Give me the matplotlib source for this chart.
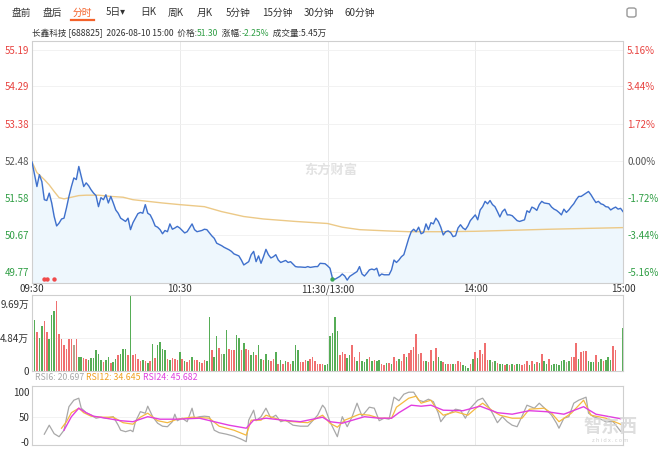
import matplotlib
matplotlib.use('Agg')
import matplotlib.pyplot as plt
from matplotlib.patches import FancyBboxPatch
from matplotlib.lines import Line2D

plt.rcParams['font.family'] = ['Noto Sans CJK SC', 'DejaVu Sans']

# ---- datos ----
prev_close = 52.48
price_ticks = [55.19, 54.29, 53.38, 52.48, 51.58, 50.67, 49.77]
pct_labels = ['5.16%', '3.44%', '1.72%', '0.00%', '-1.72%', '-3.44%', '-5.16%']
time_ticks = [0, 60, 120, 180, 240]
time_labels = ['09:30', '10:30', '11:30/13:00', '14:00', '15:00']
tabs = ['盘前', '盘后', '分时', '5日▾', '日K', '周K', '月K', '5分钟', '15分钟', '30分钟', '60分钟']

price_min = [0, 1, 2, 3, 4, 5, 6, 7, 8, 9, 10, 11, 12, 13, 14, 15, 16, 17, 18, 19,
             20, 21, 22, 23, 24, 25, 26, 27, 28, 29, 30, 31, 32, 33, 34, 35, 36, 37, 38, 39,
             40, 41, 42, 43, 44, 45, 46, 47, 48, 49, 50, 51, 52, 53, 54, 55, 56, 57, 58, 59,
             60, 62, 63, 65, 66, 67, 69, 70, 71, 73, 74, 75, 77, 78, 80, 81, 82, 84, 85, 86,
             88, 89, 90, 91, 92, 93, 94, 95, 96, 97, 98, 99, 100, 101, 103, 104, 105, 107, 108, 109,
             111, 112, 113, 115, 116, 117, 119, 120,
             121, 122, 123, 125, 126, 127, 128, 129, 130, 132, 133, 134, 135, 136, 137, 138, 139, 140,
             141, 142, 143, 144, 145, 146, 147, 148, 149, 150, 151, 152, 153, 154, 155, 156, 157, 158,
             159, 160, 161, 162, 163, 164, 165, 166, 167, 168, 169, 170, 171, 172, 173, 174, 175, 176,
             177, 178, 180, 181, 182, 183, 184, 185, 186, 187, 188, 189, 190, 191, 192, 193, 194, 195,
             197, 198, 199, 200, 201, 202, 203, 204, 205, 206, 207, 208, 210, 211, 212, 213, 214, 215,
             216, 217, 218, 219, 220, 221, 222, 223, 224, 225, 226, 227, 228, 229, 230, 231, 232, 233,
             234, 235, 236, 237, 238, 239, 240]
price = [52.45, 52.15, 51.85, 52.14, 51.97, 51.53, 51.51, 51.69, 51.45, 51.12, 50.89, 50.96, 51.06, 51.08,
         51.33, 51.61, 51.85, 52.06, 52.02, 52.34, 52.10, 51.85, 51.94, 51.87, 51.77, 51.69, 51.63, 51.36,
         51.58, 51.53, 51.65, 51.45, 51.61, 51.45, 51.28, 51.20, 51.08, 51.04, 51.00, 51.08, 50.80, 50.97,
         51.08, 51.19, 51.22, 51.20, 51.41, 51.20, 51.16, 51.04, 50.89, 50.86, 50.80, 50.70, 50.78, 50.75,
         50.94, 50.81, 50.84, 50.88,
         50.84, 50.72, 50.75, 50.94, 50.80, 50.75, 50.78, 50.81, 50.80, 50.65, 50.59, 50.47, 50.41, 50.37,
         50.31, 50.27, 50.21, 50.16, 50.06, 49.94, 50.02, 50.19, 50.27, 50.02, 50.16, 49.98, 50.14, 50.32,
         50.19, 50.11, 50.14, 50.19, 50.06, 50.00, 50.05, 50.00, 50.02, 49.90, 49.89, 49.89, 49.88, 49.90,
         49.88, 49.90, 49.90, 49.98, 49.97, 49.92,
         49.86, 49.62, 49.59, 49.66, 49.72, 49.67, 49.57, 49.66, 49.70, 49.78, 49.90, 49.72, 49.67, 49.74,
         49.82, 49.84, 49.82, 49.86, 49.67, 49.72, 49.70, 49.70, 49.70, 49.82, 50.06, 50.00, 50.06, 50.14,
         50.19, 50.39, 50.59, 50.75, 50.81, 50.75, 50.86, 50.70, 50.73, 50.94, 50.80, 50.97, 50.94, 51.08,
         51.00, 50.86, 50.67, 50.75, 50.77, 50.73, 50.63, 50.65, 50.84, 50.92, 50.84, 50.80, 50.89, 51.02,
         51.16,
         51.04, 51.28, 51.36, 51.49, 51.43, 51.51, 51.41, 51.36, 51.24, 51.11, 51.24, 51.30, 51.16, 51.16,
         51.14, 51.02, 51.00, 51.02, 51.04, 51.26, 51.22, 51.35, 51.32, 51.27, 51.41, 51.49, 51.45, 51.43,
         51.35, 51.30, 51.27, 51.22, 51.16, 51.30, 51.22, 51.28, 51.36, 51.43, 51.53, 51.61, 51.61, 51.65,
         51.69, 51.73, 51.65, 51.55, 51.46, 51.49, 51.43, 51.41, 51.36, 51.35, 51.28, 51.32, 51.35, 51.30,
         51.32, 51.24]

avg_min = [0, 2, 5, 7, 9, 11, 13, 16, 19, 22, 27, 32, 37, 41, 47, 53, 60, 70, 77, 86, 94, 107, 120,
           126, 133, 144, 153, 167, 180, 210, 240]
avg_price = [52.45, 52.19, 52.02, 51.89, 51.73, 51.58, 51.55, 51.59, 51.63, 51.64, 51.64, 51.61, 51.59,
             51.53, 51.49, 51.45, 51.41, 51.36, 51.24, 51.12, 51.06, 51.00, 50.95, 50.86, 50.80, 50.77,
             50.75, 50.75, 50.76, 50.81, 50.85]

buy_marks = [5, 6, 9]
sell_marks = [122]

# volumen por minuto (万), 0..240
volume = [8.95, 7.4, 5.6, 4.8, 6.5, 7.3, 5.6, 4.7, 8.1, 8.7,
          10.2, 5.45, 4.7, 3.75, 3.2, 4.7, 4.7, 3.75, 4.6, 2.0,
          2.0, 1.9, 1.8, 1.55, 1.95, 1.95, 3.1, 2.5, 1.65, 1.3,
          1.65, 2.1, 1.2, 1.3, 1.8, 2.3, 2.5, 3.25, 3.25, 2.3,
          10.9, 2.3, 2.4, 1.7, 1.4, 1.55, 1.45, 1.2, 1.45,
          3.9, 1.95, 3.75, 4.2, 3.25, 3.1, 1.8, 1.55, 1.95, 1.8,
          1.65, 2.8, 1.8, 1.45, 1.3, 1.65, 2.0, 1.55, 1.55, 1.3,
          1.2, 1.55, 1.45, 7.8, 3.1, 2.0, 5.05, 3.4, 2.4, 2.4,
          5.9, 3.25, 3.1, 3.1, 5.3, 4.85, 3.1, 4.0, 3.25, 3.1,
          2.3, 2.8, 2.3, 3.75, 1.8, 1.65, 2.5, 1.65, 1.45, 1.8,
          2.8, 0.95, 1.65, 1.05, 1.45, 1.3, 0.95, 1.45, 3.75, 3.0,
          1.3, 1.3, 1.55, 1.45, 1.8, 2.0, 1.4, 0.95, 1.05, 1.05,
          0.8, 0.95, 5.05,
          5.55, 7.8, 5.85, 2.3, 2.8, 2.5, 1.95, 2.3, 3.75, 2.0,
          1.45, 2.7, 1.4, 1.3, 1.8, 2.1, 1.45, 1.55, 1.45, 1.55,
          0.95, 0.8, 1.15, 1.15, 0.95, 2.1, 1.45, 1.8, 1.45, 2.5,
          2.0, 2.6, 3.1, 3.5, 5.45, 2.4, 2.6, 1.45, 1.45, 1.3,
          3.1, 1.4, 3.4, 2.1, 1.45, 1.3, 1.05, 0.95, 0.95,
          0.95, 1.05, 1.45, 1.3, 0.8, 0.7, 0.5, 0.95, 1.8, 2.8,
          1.95, 3.0, 2.5, 4.1, 1.65, 1.65, 1.3, 1.45, 1.15, 0.95,
          0.95, 0.8, 0.95, 0.8, 0.95, 0.8, 0.95, 1.05, 0.8,
          0.95, 1.45, 0.8, 1.45, 1.05, 1.3, 1.15, 2.4, 1.45, 0.95,
          1.8, 0.8, 0.95, 1.05, 0.8, 1.45, 1.55, 1.3, 1.45, 2.0,
          2.0, 4.1, 1.8, 2.8, 2.9, 2.9, 1.45, 1.3, 1.3, 2.3,
          1.3, 1.8, 1.45, 1.65, 2.1, 1.65, 3.6, 3.1,
          0, 0, 6.2]
# r = sube, g = baja, n = igual
vol_dir = ("ggrggrrggg" "rrrrrrrnrg" "grrggggggrg" "grggrgggrg" "rrrrgrgr"
           "grggggrgrr" "rgrgrrgrrg" "rrggrggrng" "grrrggrgrr" "ggrggrggrr"
           "grgrgrrggg" "rrrgrrrrrr" "ggg"
           "gggrrrggrr" "grgggrgrgg" "rrgrgrrgrr" "grrrrnrrgr" "rgrggrgrr"
           "grrrgggrgr" "grrrrgngrg" "grgrgrggr" "rrgrgrgrgg" "rggggggngr"
           "rrgrrrgggr" "ggrgggrr" "ggg")

rsi6_min = [5, 7, 9, 11, 13, 14, 15, 17, 19, 20, 22, 24, 26, 28, 30, 33, 35, 36, 38, 40, 41, 42, 44, 46,
            47, 49, 51, 53, 55, 57, 58, 59, 61, 63, 65, 66, 68, 70, 72, 74, 76, 79, 82, 85, 87, 88, 90, 91,
            93, 95, 97, 99, 101, 103, 106, 109, 112, 114, 116, 118, 119, 121, 124, 126, 128, 130, 132, 134,
            137, 139, 141, 143, 145, 147, 149, 151, 153, 155, 157, 159, 161, 163, 165, 166, 168, 170, 172,
            174, 176, 178, 181, 183, 185, 187, 189, 191, 193, 195, 197, 199, 201, 204, 206, 209, 211, 213,
            214, 216, 218, 220, 222, 225, 226, 228, 231, 233, 236, 239]
rsi6 = [15, 33, 16, 10, 23, 47, 70, 83, 87, 67, 58, 53, 47, 49, 47, 50, 33, 23, 20, 23, 20, 40, 60, 57,
        71, 50, 37, 31, 30, 40, 55, 42, 47, 40, 67, 47, 50, 51, 50, 23, 18, 15, 11, 5, 0, 43, 63, 42,
        50, 67, 47, 53, 40, 43, 33, 31, 31, 42, 53, 73, 67, 40, 10, 50, 30, 50, 77, 51,
        69, 67, 42, 47, 45, 89, 82, 95, 99, 99, 83, 80, 85, 80, 57, 40, 53, 58, 65,
        63, 47, 67, 83, 87, 73, 57, 38, 50, 40, 33, 30, 51, 73, 67, 77, 63, 53, 37,
        27, 47, 50, 77, 83, 89, 57, 50, 45, 40, 40, 21]
rsi12_min = [12, 14, 16, 19, 21, 24, 28, 33, 37, 41, 44, 47, 51, 55, 59, 65, 72, 76, 82, 87, 89, 93, 95,
             101, 106, 112, 118, 121, 124, 127, 133, 137, 141, 146, 148, 153, 156, 158, 162, 164, 167,
             172, 177, 181, 183, 187, 190, 195, 199, 202, 208, 211, 214, 219, 224, 227, 233, 239]
rsi12 = [27, 40, 58, 67, 58, 51, 49, 49, 38, 35, 49, 57, 42, 38, 45, 49, 47, 31, 23, 13, 43, 43, 53,
         43, 40, 38, 53, 37, 29, 43, 55, 53, 47, 47, 69, 87, 91, 77, 83, 67, 53,
         60, 53, 70, 77, 62, 53, 47, 47, 65, 67, 57, 40, 57, 83, 53, 47, 35]
rsi24_min = [13, 16, 19, 22, 25, 30, 36, 41, 47, 52, 59, 68, 74, 80, 87, 90, 95, 102, 109, 118, 121,
             126, 135, 141, 146, 149, 154, 158, 162, 167, 175, 182, 189, 195, 202, 209, 216, 224, 229, 239]
rsi24 = [23, 50, 67, 58, 51, 47, 42, 40, 50, 45, 45, 47, 40, 33, 27, 43, 47, 43, 40, 49, 40,
         37, 50, 47, 47, 58, 73, 71, 73, 63, 62, 71, 58, 55, 62, 60, 55, 70, 55, 46]

# ---- colores ----
RED = '#e8423f'
GREEN = '#2f9e44'
GRID = '#f0f0f0'
VGRID = '#e6e6e6'
SPINE = '#cfcfcf'
bar_colors = {'r': '#f07070', 'g': '#56ad56', 'n': '#b3a58f'}

W, H = 660, 451
fig = plt.figure(figsize=(W / 100, H / 100), dpi=100)


def box(left, top, right, bottom):
    return [left / W, 1 - bottom / H, (right - left) / W, (bottom - top) / H]


ax = fig.add_axes(box(32, 41.5, 623, 283))
axv = fig.add_axes(box(32, 295, 623, 371))
axr = fig.add_axes(box(32, 386, 623, 445))

for a in (ax, axv, axr):
    a.set_xlim(0, 240)
    for s in a.spines.values():
        s.set_color(SPINE)
        s.set_linewidth(0.8)
    a.tick_params(length=0, labelsize=7, colors='#333333', pad=2)
    for m in (60, 120, 180):
        a.axvline(m, color=VGRID, lw=0.6, zorder=0)

# precio
ylo, yhi = 49.50, 55.385
ax.set_ylim(ylo, yhi)
for t in price_ticks:
    ax.axhline(t, color=GRID, lw=0.6, zorder=0)
ax.fill_between(price_min, price, ylo, color='#eef7fd', zorder=1)
ax.plot(price_min, price, color='#3f70cc', lw=1.0, zorder=3)
ax.plot(avg_min, avg_price, color='#ecc987', lw=1.0, zorder=2)
ax.scatter(buy_marks, [49.60] * len(buy_marks), s=10, color='#f04a4a', zorder=4, lw=0)
ax.scatter(sell_marks, [49.60] * len(sell_marks), s=10, color='#3aa655', zorder=4, lw=0)

ax.set_yticks(price_ticks)
ax.set_yticklabels([f'{t:.2f}' for t in price_ticks])
ax.set_xticks(time_ticks)
ax.set_xticklabels(time_labels)
ax.tick_params(axis='x', pad=1)
ax2 = ax.twinx()
ax2.set_ylim(ylo, yhi)
ax2.set_yticks(price_ticks)
ax2.set_yticklabels(pct_labels)
ax2.tick_params(length=0, labelsize=7, pad=3)
for s in ax2.spines.values():
    s.set_visible(False)


def tick_color(v):
    if v > prev_close + 0.001:
        return RED
    if v < prev_close - 0.001:
        return GREEN
    return '#555555'


for lab, v in zip(ax.get_yticklabels(), price_ticks):
    lab.set_color(tick_color(v))
for lab, v in zip(ax2.get_yticklabels(), price_ticks):
    lab.set_color(tick_color(v))

ax.text(0.505, 0.47, '东方财富', transform=ax.transAxes, fontsize=9.5, fontweight='bold',
        color='#e2e2e2', ha='center', va='center', zorder=0)

# volumen
vol_x = list(range(len(volume)))
axv.bar(vol_x, volume, width=0.62, color=[bar_colors[c] for c in vol_dir], zorder=2)
axv.set_ylim(0, 11.05)
axv.set_yticks([0, 4.84, 9.69])
axv.set_yticklabels(['0', '4.84万', '9.69万'])
axv.axhline(4.84, color=GRID, lw=0.6, zorder=0)
axv.set_xticks([])

# RSI
axr.plot(rsi6_min, rsi6, color='#a8a8a8', lw=0.9)
axr.plot(rsi12_min, rsi12, color='#f4b940', lw=0.9)
axr.plot(rsi24_min, rsi24, color='#e23ee0', lw=1.0)
axr.set_ylim(-6.6, 111.4)
axr.set_yticks([0, 50, 100])
axr.set_yticklabels(['-0', '50', '100'])
axr.axhline(50, color=GRID, lw=0.6, zorder=0)
axr.set_xticks([])

renderer = fig.canvas.get_renderer()


def text_row(x, y, parts, size):
    # pinta trozos seguidos en coordenadas de pixel
    for s, c in parts:
        t = fig.text(x / W, 1 - y / H, s, color=c, fontsize=size, va='center', ha='left')
        x += t.get_window_extent(renderer).width


text_row(35, 378, [('RSI6: 20.697 ', '#a8a8a8'), ('RSI12: 34.645 ', '#f0a020'),
                   ('RSI24: 45.682', '#e040e0')], 6.3)
text_row(32, 33.5, [('长鑫科技 [688825]  2026-08-10 15:00  价格:', '#333333'), ('51.30', GREEN),
                    ('  涨幅:', '#333333'), ('-2.25%', GREEN), ('  成交量:5.45万', '#333333')], 6.2)

# pestañas
tab_x = [21, 52, 82, 116, 148, 176, 205, 238, 277, 319, 360]
for name, xx in zip(tabs, tab_x):
    col = '#f4622a' if name == '分时' else '#333333'
    fig.text(xx / W, 1 - 12.5 / H, name, color=col, fontsize=7, ha='center', va='center')
fig.add_artist(Line2D([71 / W, 94 / W], [1 - 20 / H, 1 - 20 / H], color='#f4622a', lw=1.6))
fig.add_artist(FancyBboxPatch((627 / W, 1 - 17 / H), 9 / W, 9 / H,
                              boxstyle='round,pad=0,rounding_size=0.004',
                              fc='white', ec='#999999', lw=1.0, transform=fig.transFigure))

# marca de agua del sitio
fig.text(610 / W, 1 - 426 / H, '智东西', fontsize=13, fontweight='bold', color='#d6d6d6',
         alpha=0.8, ha='center', va='center')
fig.text(610 / W, 1 - 440 / H, 'z h i d x . c o m', fontsize=4, color='#d0d0d0',
         ha='center', va='center')

fig.savefig('out.png', dpi=100)
